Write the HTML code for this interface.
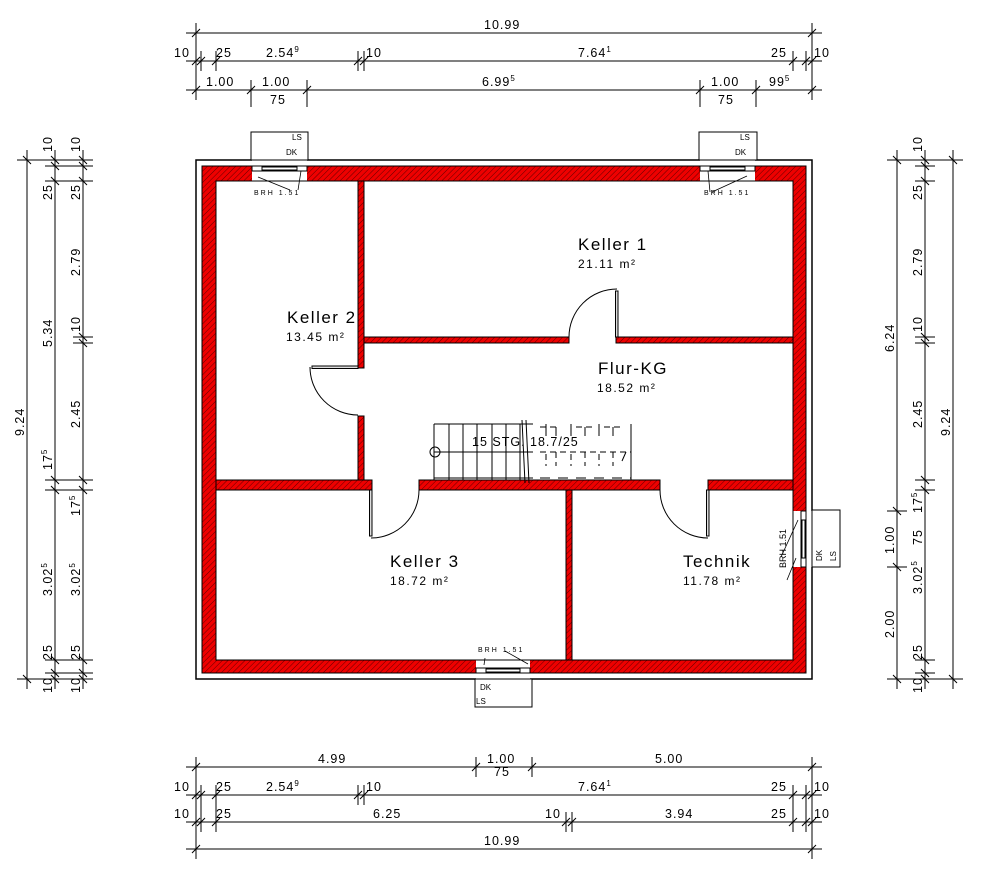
<!DOCTYPE html>
<html><head><meta charset="utf-8"><style>
html,body{margin:0;padding:0;background:#fff;}
svg{display:block;}
text{font-family:"Liberation Sans",sans-serif;fill:#000;}
.d{font-size:12.5px;letter-spacing:1px;}
.s{font-size:8px;}
.r{font-size:17px;letter-spacing:1.5px;}
.a{font-size:12px;letter-spacing:1.5px;}
.t{font-size:7px;letter-spacing:2px;}
</style></head><body>
<svg width="1000" height="877" viewBox="0 0 1000 877" xmlns="http://www.w3.org/2000/svg">
<defs>
<pattern id="h" width="4" height="4" patternUnits="userSpaceOnUse" patternTransform="rotate(45)">
<rect width="4" height="4" fill="#ee0000"/><line x1="0" y1="0" x2="0" y2="4" stroke="#600000" stroke-width="1"/>
</pattern>
</defs>
<rect x="196" y="160" width="616" height="519" fill="none" stroke="#000" stroke-width="1.5"/>
<path fill="url(#h)" stroke="#000" stroke-width="1" fill-rule="evenodd" d="M202 166H806V673H202Z M216 181V660H793V181Z"/>
<g fill="url(#h)" stroke="#000" stroke-width="1">
<rect x="358" y="181" width="6" height="187"/>
<rect x="358" y="416" width="6" height="64"/>
<rect x="364" y="337" width="205" height="6"/>
<rect x="616" y="337" width="177" height="6"/>
<rect x="216" y="480" width="156" height="10"/>
<rect x="419" y="480" width="241" height="10"/>
<rect x="708" y="480" width="85" height="10"/>
<rect x="566" y="490" width="6" height="170"/>
</g>
<g fill="#fff" stroke="#000" stroke-width="1">
<rect x="252" y="160" width="55" height="21" stroke="none"/>
<rect x="700" y="160" width="55" height="21" stroke="none"/>
<rect x="476" y="660" width="54" height="19" stroke="none"/>
<rect x="793" y="511" width="19" height="56" stroke="none"/>
<rect x="252" y="166" width="55" height="5"/><rect x="262" y="167" width="35" height="3"/>
<rect x="700" y="166" width="55" height="5"/><rect x="710" y="167" width="35" height="3"/>
<rect x="476" y="668" width="54" height="5"/><rect x="486" y="669" width="34" height="3"/>
<rect x="801" y="511" width="5" height="56"/><rect x="802" y="520" width="3" height="38"/>
<rect x="251" y="132" width="57" height="28"/>
<rect x="699" y="132" width="58" height="28"/>
<rect x="475" y="679" width="57" height="28"/>
<rect x="812" y="510" width="28" height="57"/>
<path d="M252 160H307M252 181H307M700 160H755M700 181H755M476 660H530M476 679H530M793 511V567M812 511V567" fill="none"/>
</g>
<g stroke="#000" stroke-width="0.8" fill="none">
<path d="M258 177L290 190M301 171L298 190"/>
<path d="M747 176L712 192M708 171L710 192"/>
<path d="M484 665L485 658M528 664L505 651"/>
<path d="M796 558L787 580M798 520L781 557"/>
</g>
<text class="s" x="292" y="140">LS</text><text class="s" x="286" y="155">DK</text>
<text class="s" x="740" y="140">LS</text><text class="s" x="735" y="155">DK</text>
<text class="s" x="480" y="690">DK</text><text class="s" x="476" y="704">LS</text>
<text class="s" transform="translate(822,561) rotate(-90)">DK</text>
<text class="s" transform="translate(836,561) rotate(-90)">LS</text>
<text class="t" x="254" y="195">BRH 1.51</text>
<text class="t" x="704" y="195">BRH 1.51</text>
<text class="t" x="478" y="652">BRH 1.51</text>
<text class="s" style="font-size:9px" transform="translate(786,568) rotate(-90)">BRH 1.51</text>
<g stroke="#000" fill="none" stroke-width="1">
<path d="M310 367A48 48 0 0 0 358 415"/>
<path d="M569 337A48 48 0 0 1 617 289"/>
<path d="M419 490A48 48 0 0 1 371 538"/>
<path d="M660 490A48 48 0 0 0 708 538"/>
</g>
<g stroke="#000" fill="#ddd" stroke-width="1">
<rect x="312" y="366" width="46" height="2.5"/>
<rect x="615.5" y="291" width="2.5" height="46"/>
<rect x="369.5" y="490" width="2.5" height="46"/>
<rect x="706.5" y="490" width="2.5" height="46"/>
</g>
<g stroke="#000" stroke-width="1" fill="none">
<path d="M434 424H533M434 452H533M434 478H533M434 424V480"/>
<path d="M449 424V480M463 424V480M477 424V480M492 424V480M506 424V480M520 424V480"/>
<path d="M522 420L525 483M526 420L529 483"/>
<circle cx="435" cy="452" r="5"/>
<path d="M631 424V480M626 452L622 461" />
<path d="M546 424V436M556 427V436M571 424V436M585 427V436M599 424V436M613 427V436" />
<path d="M546 454V466M556 452V466M571 454V466M585 452V466M599 454V466M613 452V466M540 427H560M576 427H592M604 427H620M540 452H631" stroke-dasharray="6 4"/>
<path d="M540 478H631" stroke-dasharray="10 8"/>
</g>
<text class="d" x="472" y="446">15 STG. 18.7/25</text>
<text class="r" x="578" y="250">Keller 1</text><text class="a" x="578" y="268">21.11 m²</text>
<text class="r" x="287" y="323">Keller 2</text><text class="a" x="286" y="341">13.45 m²</text>
<text class="r" x="598" y="374">Flur-KG</text><text class="a" x="597" y="392">18.52 m²</text>
<text class="r" x="390" y="567">Keller 3</text><text class="a" x="390" y="585">18.72 m²</text>
<text class="r" x="683" y="567">Technik</text><text class="a" x="683" y="585">11.78 m²</text>

<g stroke="#000" stroke-width="1" fill="none">
<path d="M186 33H822M186 61H822M186 90H822"/>
<path d="M196 23V100M812 23V100M201 51V71M216 51V71M358 51V71M364 51V71M793 51V71M806 51V71M251 80V107M307 80V107M700 80V107M756 80V107"/>
<path d="M186 767H822M186 795H822M186 822H822M186 849H822"/>
<path d="M196 757V859M812 757V859M476 757V777M532 757V777M201 785V832M216 785V832M358 785V805M364 785V805M566 812V832M572 812V832M793 785V832M806 785V832"/>
<path d="M27 150V689M55 150V689M83 150V689"/>
<path d="M17 160H93M17 679H93M45 166H93M45 181H93M73 337H93M73 343H93M45 480H93M45 490H93M45 660H93M45 673H93"/>
<path d="M897 150V689M925 150V689M953 150V689"/>
<path d="M887 160H963M887 679H963M887 511H907M887 567H907M915 166H935M915 181H935M915 337H935M915 343H935M915 480H935M915 490H935M915 660H935M915 673H935"/>
</g>
<g stroke="#000" stroke-width="1">
<path d="
M192 37l8 -8M808 37l8 -8
M192 65l8 -8M197 65l8 -8M212 65l8 -8M354 65l8 -8M360 65l8 -8M789 65l8 -8M802 65l8 -8M808 65l8 -8
M192 94l8 -8M247 94l8 -8M303 94l8 -8M696 94l8 -8M752 94l8 -8M808 94l8 -8
M192 771l8 -8M472 771l8 -8M528 771l8 -8M808 771l8 -8
M192 799l8 -8M197 799l8 -8M212 799l8 -8M354 799l8 -8M360 799l8 -8M789 799l8 -8M802 799l8 -8M808 799l8 -8
M192 826l8 -8M197 826l8 -8M212 826l8 -8M562 826l8 -8M568 826l8 -8M789 826l8 -8M802 826l8 -8M808 826l8 -8
M192 853l8 -8M808 853l8 -8
M23 156l8 8M23 675l8 8
M51 156l8 8M51 162l8 8M51 177l8 8M51 476l8 8M51 486l8 8M51 656l8 8M51 669l8 8M51 675l8 8
M79 156l8 8M79 162l8 8M79 177l8 8M79 333l8 8M79 339l8 8M79 476l8 8M79 486l8 8M79 656l8 8M79 669l8 8M79 675l8 8
M893 156l8 8M893 507l8 8M893 563l8 8M893 675l8 8
M921 156l8 8M921 162l8 8M921 177l8 8M921 333l8 8M921 339l8 8M921 476l8 8M921 486l8 8M921 656l8 8M921 669l8 8M921 675l8 8
M949 156l8 8M949 675l8 8
"/>
</g>
<text class="d" x="484" y="29">10.99</text>
<text class="d" x="174" y="57">10</text><text class="d" x="216" y="57">25</text>
<text class="d" x="266" y="57">2.54<tspan dy="-5" font-size="8">9</tspan></text>
<text class="d" x="366" y="57">10</text>
<text class="d" x="578" y="57">7.64<tspan dy="-5" font-size="8">1</tspan></text>
<text class="d" x="771" y="57">25</text><text class="d" x="814" y="57">10</text>
<text class="d" x="206" y="86">1.00</text><text class="d" x="262" y="86">1.00</text>
<text class="d" x="270" y="104">75</text>
<text class="d" x="482" y="86">6.99<tspan dy="-5" font-size="8">5</tspan></text>
<text class="d" x="711" y="86">1.00</text><text class="d" x="718" y="104">75</text>
<text class="d" x="769" y="86">99<tspan dy="-5" font-size="8">5</tspan></text>
<text class="d" x="318" y="763">4.99</text>
<text class="d" x="487" y="763">1.00</text><text class="d" x="494" y="776">75</text>
<text class="d" x="655" y="763">5.00</text>
<text class="d" x="174" y="791">10</text><text class="d" x="216" y="791">25</text>
<text class="d" x="266" y="791">2.54<tspan dy="-5" font-size="8">9</tspan></text>
<text class="d" x="366" y="791">10</text>
<text class="d" x="578" y="791">7.64<tspan dy="-5" font-size="8">1</tspan></text>
<text class="d" x="771" y="791">25</text><text class="d" x="814" y="791">10</text>
<text class="d" x="174" y="818">10</text><text class="d" x="216" y="818">25</text>
<text class="d" x="373" y="818">6.25</text>
<text class="d" x="545" y="818">10</text>
<text class="d" x="665" y="818">3.94</text>
<text class="d" x="771" y="818">25</text><text class="d" x="814" y="818">10</text>
<text class="d" x="484" y="845">10.99</text>
<g class="d">
<text transform="translate(24,436) rotate(-90)">9.24</text>
<text transform="translate(52,347) rotate(-90)">5.34</text>
<text transform="translate(52,152) rotate(-90)">10</text>
<text transform="translate(52,200) rotate(-90)">25</text>
<text transform="translate(52,470) rotate(-90)">17<tspan dy="-5" font-size="8">5</tspan></text>
<text transform="translate(52,596) rotate(-90)">3.02<tspan dy="-5" font-size="8">5</tspan></text>
<text transform="translate(52,660) rotate(-90)">25</text>
<text transform="translate(52,693) rotate(-90)">10</text>
<text transform="translate(80,152) rotate(-90)">10</text>
<text transform="translate(80,200) rotate(-90)">25</text>
<text transform="translate(80,276) rotate(-90)">2.79</text>
<text transform="translate(80,332) rotate(-90)">10</text>
<text transform="translate(80,428) rotate(-90)">2.45</text>
<text transform="translate(80,516) rotate(-90)">17<tspan dy="-5" font-size="8">5</tspan></text>
<text transform="translate(80,596) rotate(-90)">3.02<tspan dy="-5" font-size="8">5</tspan></text>
<text transform="translate(80,660) rotate(-90)">25</text>
<text transform="translate(80,693) rotate(-90)">10</text>
<text transform="translate(894,352) rotate(-90)">6.24</text>
<text transform="translate(894,554) rotate(-90)">1.00</text>
<text transform="translate(894,638) rotate(-90)">2.00</text>
<text transform="translate(922,152) rotate(-90)">10</text>
<text transform="translate(922,200) rotate(-90)">25</text>
<text transform="translate(922,276) rotate(-90)">2.79</text>
<text transform="translate(922,332) rotate(-90)">10</text>
<text transform="translate(922,428) rotate(-90)">2.45</text>
<text transform="translate(922,513) rotate(-90)">17<tspan dy="-5" font-size="8">5</tspan></text>
<text transform="translate(922,545) rotate(-90)">75</text>
<text transform="translate(922,594) rotate(-90)">3.02<tspan dy="-5" font-size="8">5</tspan></text>
<text transform="translate(922,660) rotate(-90)">25</text>
<text transform="translate(922,693) rotate(-90)">10</text>
<text transform="translate(950,436) rotate(-90)">9.24</text>
</g>
</svg>
</body></html>
